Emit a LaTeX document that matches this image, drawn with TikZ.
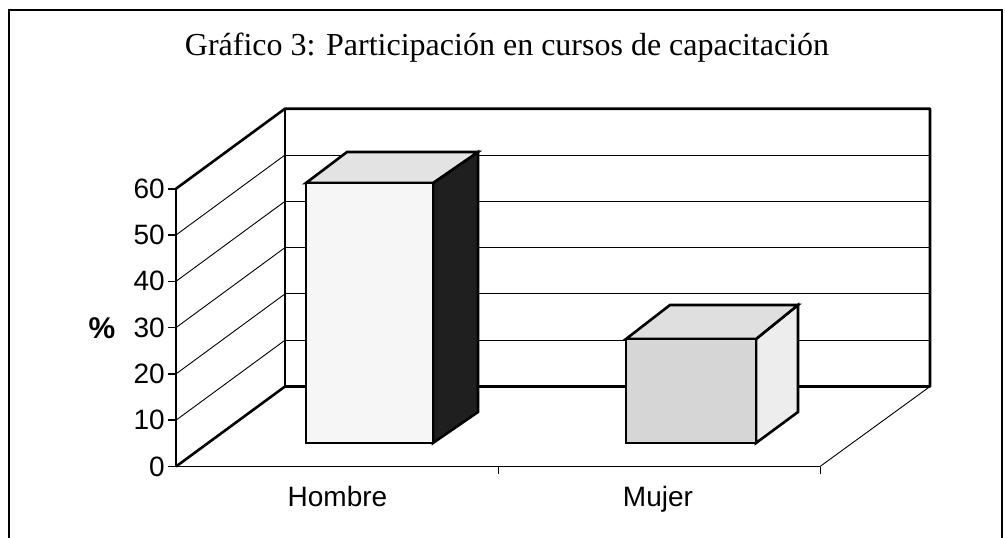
\documentclass[tikz,border=0pt]{standalone}
\usepackage{fontspec}
\setmainfont{Liberation Serif}
\newfontfamily\arialf{Liberation Sans}
\begin{document}
\begin{tikzpicture}[x=1pt,y=-1pt,
  thickline/.style={line width=2.6pt,line join=round},
  medline/.style={line width=1.6pt},
  thinline/.style={line width=0.9pt},
  barline/.style={line width=2.6pt,line join=miter},
  axlabel/.style={font=\arialf\fontsize{28}{28}\selectfont,anchor=east,inner sep=0pt},
  catlabel/.style={font=\arialf\fontsize{28}{28}\selectfont,anchor=base,inner sep=0pt}]
\useasboundingbox (0,0) rectangle (1005,538);
% frame
\draw[medline] (9,545) -- (9,10) -- (1002,10) -- (1002,545);
% title
\node[font=\fontsize{32}{32}\selectfont,anchor=base,inner sep=0pt] (title) at (507,56) {Gráfico 3: Participación en cursos de capacitación};
% corner coordinates
\coordinate (f0) at (176,466.5);
\coordinate (f60) at (176,188.7);
\coordinate (b0) at (285,386.5);
\coordinate (b60) at (285,108.7);
\coordinate (r0) at (930,386.5);
\coordinate (r60) at (930,108.7);
\coordinate (fr) at (820,466.5);
% back wall grid lines (thin)
\foreach \v in {10,20,30,40,50}{
  \draw[thinline] (285,{386.5-4.63*\v}) -- (930,{386.5-4.63*\v});
  \draw[thinline] (176,{466.5-4.63*\v}) -- (285,{386.5-4.63*\v});
}
% floor
\draw[thinline] (f0) -- (fr) -- (r0);
\coordinate (tk1) at (498,474);
\coordinate (tk1a) at (498,466.5);
\coordinate (tk2) at (820,474);
\draw[thinline] (tk1a) -- (tk1);
\draw[thinline] (fr) -- (tk2);
% walls
\draw[thickline] (f0) -- (b0) -- (r0) -- (r60) -- (b60) -- (f60);
\draw[thickline] (b0) -- (b60);
\draw[medline] (f0) -- (f60);
% y ticks and labels
\foreach \v in {0,10,20,30,40,50,60}{
  \draw[medline] (168,{466.5-4.63*\v}) -- (176,{466.5-4.63*\v});
  \node[axlabel] (lab\v) at (165,{466.5-4.63*\v}) {\v};
}
\node[font=\arialf\bfseries\fontsize{30}{30}\selectfont,inner sep=0pt] (pct) at (102,328) {\%};
% Hombre bar
\coordinate (h1) at (306,443);
\coordinate (h2) at (433,443);
\coordinate (h3) at (433,183);
\coordinate (h4) at (306,183);
\coordinate (h5) at (347,152);
\coordinate (h6) at (478,152);
\coordinate (h7) at (478,412);
\filldraw[barline,fill=black!88] (h2) -- (h7) -- (h6) -- (h3) -- cycle;
\filldraw[barline,fill=gray!22] (h4) -- (h5) -- (h6) -- (h3) -- cycle;
\filldraw[barline,fill=gray!7] (h1) rectangle (h3);
% Mujer bar
\coordinate (m1) at (626,443);
\coordinate (m2) at (756,443);
\coordinate (m3) at (756,339);
\coordinate (m4) at (626,339);
\coordinate (m5) at (670,305);
\coordinate (m6) at (798,305);
\coordinate (m7) at (798,412);
\filldraw[barline,fill=gray!14] (m2) -- (m7) -- (m6) -- (m3) -- cycle;
\filldraw[barline,fill=gray!25] (m4) -- (m5) -- (m6) -- (m3) -- cycle;
\filldraw[barline,fill=gray!32] (m1) rectangle (m3);
% category labels
\node[catlabel] (hom) at (337.5,506) {Hombre};
\node[catlabel] (muj) at (658,506) {Mujer};
\end{tikzpicture}
\end{document}
